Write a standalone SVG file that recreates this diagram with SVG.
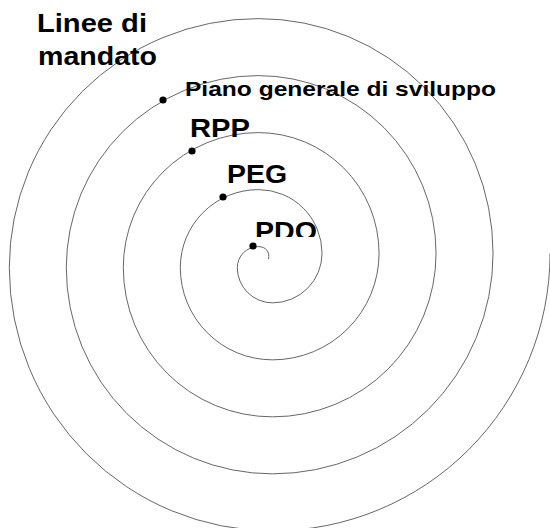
<svg xmlns="http://www.w3.org/2000/svg" width="550" height="528" viewBox="0 0 550 528">
  <style>
    .lbl { font-family: "Liberation Sans", Arial, sans-serif; font-weight: bold; fill: #000; }
    .big { font-size: 26px; }
    .mid { font-size: 21px; }
    .spiral { fill: none; stroke: #555; stroke-width: 0.9; }
    .dot { fill: #000; }
  </style>
  <defs>
    <clipPath id="pdoClip">
      <rect x="240" y="200" width="100" height="37"/>
    </clipPath>
  </defs>
  <rect width="550" height="528" fill="#fff"/>
  <g id="connectors">
    <path class="spiral" d="M 268.5 259 C 270 252 266 246.6 258.3 246.6
      A 21 21 0 0 0 237.3 267.6
      A 35.25 35.25 0 0 0 272.55 302.85
      A 49.5 49.5 0 0 0 322.05 253.35
      A 63.75 63.75 0 0 0 258.3 189.6
      A 78 78 0 0 0 180.3 267.6
      A 92.25 92.25 0 0 0 272.55 359.85
      A 106.5 106.5 0 0 0 379.05 253.35
      A 120.75 120.75 0 0 0 258.3 132.6
      A 135 135 0 0 0 123.3 267.6
      A 149.25 149.25 0 0 0 272.55 416.85
      A 163.5 163.5 0 0 0 436.05 253.35
      A 177.75 177.75 0 0 0 258.3 75.6
      A 192 192 0 0 0 66.3 267.6
      A 206.25 206.25 0 0 0 272.55 473.85
      A 220.5 220.5 0 0 0 493.05 253.35
      A 234.75 234.75 0 0 0 258.3 18.6
      A 249 249 0 0 0 9.3 267.6
      A 263.25 263.25 0 0 0 272.55 530.85
      A 277.5 277.5 0 0 0 550.05 253.35"/>
  </g>
  <g id="linee-di-mandato">
    <text class="lbl big" x="37" y="32" textLength="110" lengthAdjust="spacingAndGlyphs">Linee di</text>
    <text class="lbl big" x="38" y="65" textLength="119" lengthAdjust="spacingAndGlyphs">mandato</text>
  </g>
  <g id="piano-generale">
    <circle class="dot" cx="163" cy="100" r="3.6"/>
    <text class="lbl mid" x="185" y="96" textLength="311" lengthAdjust="spacingAndGlyphs">Piano generale di sviluppo</text>
  </g>
  <g id="rpp">
    <circle class="dot" cx="192" cy="151" r="3.6"/>
    <text class="lbl big" x="190" y="137" textLength="60" lengthAdjust="spacingAndGlyphs">RPP</text>
  </g>
  <g id="peg">
    <circle class="dot" cx="223" cy="197" r="3.6"/>
    <text class="lbl big" x="227" y="183" textLength="60" lengthAdjust="spacingAndGlyphs">PEG</text>
  </g>
  <g id="pdo">
    <circle class="dot" cx="253" cy="246" r="3.6"/>
    <text class="lbl big" x="255" y="240" textLength="62" lengthAdjust="spacingAndGlyphs" clip-path="url(#pdoClip)">PDO</text>
  </g>
</svg>
